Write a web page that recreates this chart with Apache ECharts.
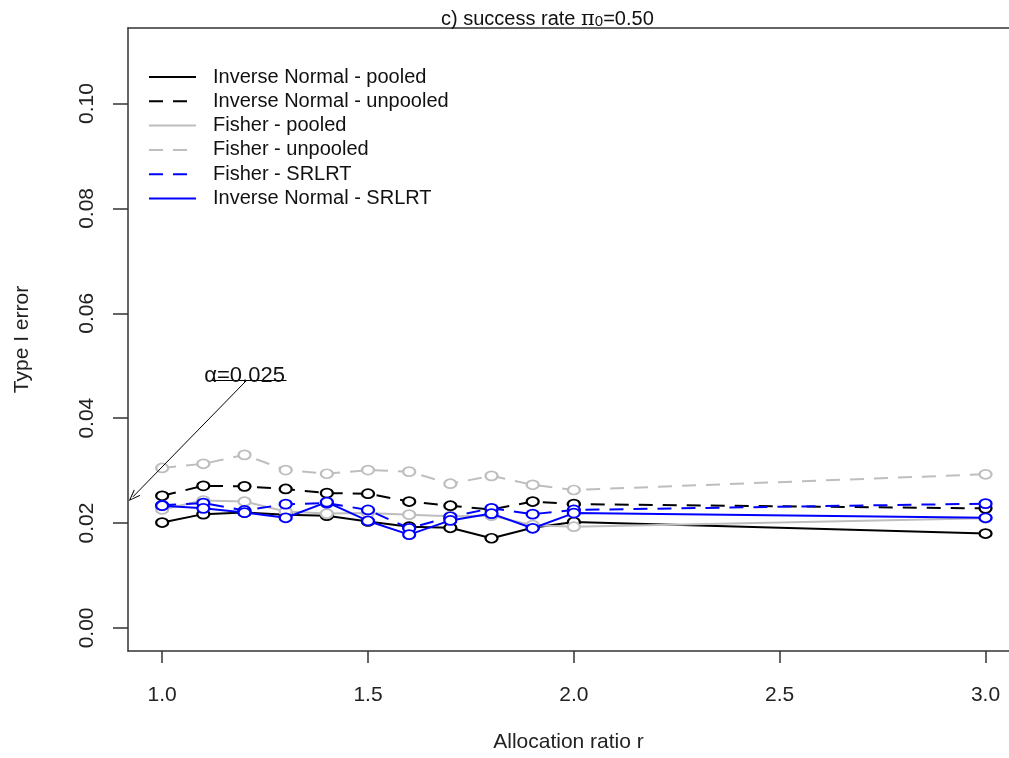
<!DOCTYPE html>
<html>
<head>
<meta charset="utf-8">
<script src="https://cdn.jsdelivr.net/npm/echarts@6/dist/echarts.min.js"></script>
<style>html,body{margin:0;padding:0;background:#fff}#c{width:1009px;height:758px}</style>
</head>
<body>
<div id="c"></div>
<script>
// ---- data ----
var ratios = [1.0, 1.1, 1.2, 1.3, 1.4, 1.5, 1.6, 1.7, 1.8, 1.9, 2.0, 3.0];
var invNormalPooled   = [0.0201, 0.0217, 0.0220, 0.0216, 0.0214, 0.0203, 0.0193, 0.0191, 0.0171, 0.0191, 0.0202, 0.0180];
var invNormalUnpooled = [0.0252, 0.0271, 0.0270, 0.0265, 0.0257, 0.0256, 0.0241, 0.0233, 0.0226, 0.0241, 0.0236, 0.0228];
var fisherPooled      = [0.0226, 0.0243, 0.0241, 0.0222, 0.0218, 0.0219, 0.0216, 0.0213, 0.0214, 0.0196, 0.0193, 0.0209];
var fisherUnpooled    = [0.0305, 0.0313, 0.0330, 0.0301, 0.0294, 0.0301, 0.0298, 0.0275, 0.0290, 0.0273, 0.0263, 0.0293];
var fisherSRLRT       = [0.0234, 0.0238, 0.0224, 0.0236, 0.0238, 0.0225, 0.0190, 0.0212, 0.0228, 0.0217, 0.0225, 0.0237];
var invNormalSRLRT    = [0.0233, 0.0228, 0.0220, 0.0210, 0.0240, 0.0204, 0.0178, 0.0205, 0.0218, 0.0190, 0.0219, 0.0210];
var seriesNames = ['Inverse Normal - pooled', 'Inverse Normal - unpooled', 'Fisher - pooled',
                   'Fisher - unpooled', 'Fisher - SRLRT', 'Inverse Normal - SRLRT'];
var xTicks = [1.0, 1.5, 2.0, 2.5, 3.0];
var yTicks = [0.00, 0.02, 0.04, 0.06, 0.08, 0.10];
var alpha = 0.025;
var annotationText = 'α=0.025';
var annotationAnchor = [1.205, 0.0472];
var arrowTip = [0.929, alpha];
var underline = [[1.118, 0.0472], [1.302, 0.0472]];

function pairs(ys) { return ratios.map(function (x, i) { return [x, ys[i]]; }); }

var FONT = '"Liberation Sans", Arial, sans-serif';
var BLACK = '#000000', GRAY = '#bebebe', BLUE = '#0000ff';
var DASH = [14, 10];
var X_MIN = 0.917, X_MAX = 3.057;

function mk(name, ys, color, dashed, z) {
  return {
    name: name, type: 'line', data: pairs(ys), z: z,
    symbol: 'emptyCircle', symbolSize: [12, 9], showAllSymbol: true,
    lineStyle: { color: color, width: 2, type: dashed ? DASH : 'solid' },
    itemStyle: { color: color, borderColor: color, borderWidth: 2 },
    emphasis: { disabled: true }, animation: false
  };
}

var series = [
  mk(seriesNames[0], invNormalPooled, BLACK, false, 2),
  mk(seriesNames[1], invNormalUnpooled, BLACK, true, 3),
  mk(seriesNames[2], fisherPooled, GRAY, false, 2),
  mk(seriesNames[3], fisherUnpooled, GRAY, true, 2),
  mk(seriesNames[4], fisherSRLRT, BLUE, true, 4),
  mk(seriesNames[5], invNormalSRLRT, BLUE, false, 5)
];

series[0].markLine = {
  silent: true, animation: false, symbol: ['none', 'none'], label: { show: false },
  data: [
    [{ yAxis: alpha, lineStyle: { color: '#000', width: 2, type: [3, 7] } },
     { yAxis: alpha }],
    [{ coord: annotationAnchor, symbol: 'none', lineStyle: { color: '#000', width: 1, type: 'solid' } },
     { coord: arrowTip, symbol: 'path://M5,0 L10,10 L8.8,10 L5,2.2 L1.2,10 L0,10 Z', symbolSize: [9, 12] }],
    [{ coord: underline[0], symbol: 'none', lineStyle: { color: '#000', width: 1, type: 'solid' } },
     { coord: underline[1], symbol: 'none' }]
  ]
};
series[0].markPoint = {
  silent: true, animation: false, symbol: 'circle', symbolSize: 0,
  data: [{ coord: annotationAnchor, label: { show: true, position: 'top', distance: 0, offset: [-2, 7],
    formatter: annotationText, fontSize: 22, color: '#111', fontFamily: FONT } }]
};

var chart = echarts.init(document.getElementById('c'), null, { renderer: 'canvas' });
chart.setOption({
  animation: false,
  backgroundColor: '#ffffff',
  title: {
    left: 436, top: 4,
    text: '{t|c) success rate }{p|π}{s|0}{t|=0.50}',
    textStyle: {
      fontFamily: FONT, fontWeight: 'normal', color: '#111', fontSize: 20,
      rich: {
        t: { fontFamily: FONT, fontSize: 20, color: '#111', padding: [0, 0, 5, 0] },
        p: { fontFamily: 'DejaVu Serif', fontSize: 21, color: '#111', padding: [0, 0, 5, 0] },
        s: { fontFamily: FONT, fontSize: 15, color: '#111' }
      }
    }
  },
  legend: {
    orient: 'vertical', left: 143, top: 62,
    itemWidth: 47, itemHeight: 14, itemGap: 4.3,
    data: seriesNames,
    selectedMode: false,
    itemStyle: { opacity: 0 },
    formatter: function (n) { return '{g|}' + n; },
    textStyle: { fontFamily: FONT, fontSize: 20, color: '#111', lineHeight: 19,
      rich: { g: { width: 12 } } }
  },
  grid: { left: 128, top: 28, right: 0, bottom: 99, show: false },
  xAxis: [{
    type: 'value', min: X_MIN, max: X_MAX, position: 'bottom',
    name: 'Allocation ratio r', nameLocation: 'middle', nameGap: 81,
    nameTextStyle: { fontFamily: FONT, fontSize: 21, color: '#222' },
    axisLine: { show: true, onZero: false, lineStyle: { color: '#333', width: 1.5 } },
    splitLine: { show: false },
    axisTick: { show: true, length: 12, customValues: xTicks, lineStyle: { color: '#333', width: 1.5 } },
    axisLabel: { customValues: xTicks, margin: 34, fontFamily: FONT, fontSize: 21, color: '#222',
      formatter: function (v) { return v.toFixed(1); } }
  }, {
    type: 'value', min: X_MIN, max: X_MAX, position: 'top',
    axisLine: { show: true, onZero: false, lineStyle: { color: '#333', width: 1.5 } },
    splitLine: { show: false }, axisTick: { show: false }, axisLabel: { show: false }
  }],
  yAxis: {
    type: 'value', min: -0.0044, max: 0.1144,
    name: 'Type I error', nameLocation: 'middle', nameGap: 95, nameRotate: 90,
    nameTextStyle: { fontFamily: FONT, fontSize: 21, color: '#222' },
    axisLine: { show: true, onZero: false, lineStyle: { color: '#333', width: 1.5 } },
    splitLine: { show: false },
    axisTick: { show: true, length: 15, customValues: yTicks, lineStyle: { color: '#333', width: 1.5 } },
    axisLabel: { customValues: yTicks, rotate: 90, margin: 30, fontFamily: FONT, fontSize: 21, color: '#222',
      formatter: function (v) { return v.toFixed(2); } }
  },
  series: series
});
</script>
</body>
</html>
